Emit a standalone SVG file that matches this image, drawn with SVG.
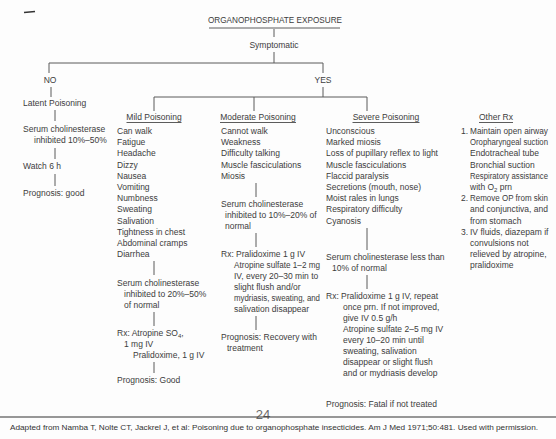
<svg xmlns="http://www.w3.org/2000/svg" width="556" height="439" viewBox="0 0 556 439">
<style>
text{font-family:"Liberation Sans",Arial,sans-serif;font-size:8.5px;fill:#3c3c3c}
.c{text-anchor:middle}
.t{font-size:8.2px}
.ln{stroke:#5a5a5a;stroke-width:1;fill:none}
.ul{stroke:#4a4a4a;stroke-width:0.9}
.cite{font-size:6.8px;fill:#333}
.pg{font-size:13px;fill:#6a6a6a}
</style>
<rect width="556" height="439" fill="#fdfdfd"/>
<path d="M24 12.5 L35 11.5" stroke="#333" stroke-width="1.6"/>

<g id="connectors" class="ln">
<path d="M274 29V37M274 52V63M49 63H323M49 63V73M323 63V73M51 87V97M323 87V97M154 97H367M154 97V111M254 97V111M367 97V111"/>
<path d="M55 110V121M55 148V159M55 174V186"/>
<path d="M154 261V275M154 312V326M154 362V373"/>
<path d="M256 183V197M256 233V247M256 316V330"/>
<path d="M367 228V250M367 275V289"/>
</g>

<g id="title">
<text class="c t" x="275" y="23">ORGANOPHOSPHATE EXPOSURE</text>
<line class="ul" x1="209" y1="28" x2="340" y2="28"/>
</g>
<g id="symptomatic"><text class="c" x="274" y="48">Symptomatic</text></g>
<g id="no"><text class="c" x="50" y="83">NO</text></g>
<g id="yes"><text class="c" x="323" y="83">YES</text></g>

<g id="latent">
<text x="23" y="106">Latent Poisoning</text>
<text x="23" y="132">Serum cholinesterase</text>
<text x="34" y="143">inhibited 10%–50%</text>
<text x="23" y="169">Watch 6 h</text>
<text x="23" y="196">Prognosis: good</text>
</g>

<g id="mild">
<text class="c" x="154" y="120">Mild Poisoning</text>
<line class="ul" x1="126.5" y1="122.5" x2="181.5" y2="122.5"/>
<text x="117" y="134">Can walk</text>
<text x="117" y="145.2">Fatigue</text>
<text x="117" y="156.4">Headache</text>
<text x="117" y="167.6">Dizzy</text>
<text x="117" y="178.8">Nausea</text>
<text x="117" y="190">Vomiting</text>
<text x="117" y="201.2">Numbness</text>
<text x="117" y="212.4">Sweating</text>
<text x="117" y="223.6">Salivation</text>
<text x="117" y="234.8">Tightness in chest</text>
<text x="117" y="246">Abdominal cramps</text>
<text x="117" y="257.2">Diarrhea</text>
<text x="117" y="286">Serum cholinesterase</text>
<text x="124" y="297">inhibited to 20%–50%</text>
<text x="124" y="308">of normal</text>
<text x="117" y="336">Rx: Atropine SO<tspan font-size="6" dy="2">4</tspan><tspan dy="-2">,</tspan></text>
<text x="124" y="347">1 mg IV</text>
<text x="133" y="358">Pralidoxime, 1 g IV</text>
<text x="117" y="383">Prognosis: Good</text>
</g>

<g id="moderate">
<text class="c" x="258" y="120">Moderate Poisoning</text>
<line class="ul" x1="220" y1="122.5" x2="296" y2="122.5"/>
<text x="221" y="134">Cannot walk</text>
<text x="221" y="145.2">Weakness</text>
<text x="221" y="156.4">Difficulty talking</text>
<text x="221" y="167.6">Muscle fasciculations</text>
<text x="221" y="178.8">Miosis</text>
<text x="221" y="207">Serum cholinesterase</text>
<text x="225" y="218">inhibited to 10%–20% of</text>
<text x="225" y="229">normal</text>
<text x="221" y="257">Rx: Pralidoxime 1 g IV</text>
<text x="234" y="268" textLength="86" lengthAdjust="spacingAndGlyphs">Atropine sulfate 1–2 mg</text>
<text x="234" y="279">IV, every 20–30 min to</text>
<text x="234" y="290">slight flush and/or</text>
<text x="234" y="301" textLength="86" lengthAdjust="spacingAndGlyphs">mydriasis, sweating, and</text>
<text x="234" y="312">salivation disappear</text>
<text x="221" y="340">Prognosis: Recovery with</text>
<text x="227" y="351">treatment</text>
</g>

<g id="severe">
<text class="c" x="386" y="120">Severe Poisoning</text>
<line class="ul" x1="352.5" y1="122.5" x2="419.5" y2="122.5"/>
<text x="326" y="134">Unconscious</text>
<text x="326" y="145.2">Marked miosis</text>
<text x="326" y="156.4">Loss of pupillary reflex to light</text>
<text x="326" y="167.6">Muscle fasciculations</text>
<text x="326" y="178.8">Flaccid paralysis</text>
<text x="326" y="190">Secretions (mouth, nose)</text>
<text x="326" y="201.2">Moist rales in lungs</text>
<text x="326" y="212.4">Respiratory difficulty</text>
<text x="326" y="223.6">Cyanosis</text>
<text x="326" y="260">Serum cholinesterase less than</text>
<text x="332" y="271">10% of normal</text>
<text x="326" y="299">Rx: Pralidoxime 1 g IV, repeat</text>
<text x="343" y="310">once prn. If not improved,</text>
<text x="343" y="321">give IV 0.5 g/h</text>
<text x="343" y="332">Atropine sulfate 2–5 mg IV</text>
<text x="343" y="343">every 10–20 min until</text>
<text x="343" y="354">sweating, salivation</text>
<text x="343" y="365">disappear or slight flush</text>
<text x="343" y="376">and or mydriasis develop</text>
<text x="326" y="407">Prognosis: Fatal if not treated</text>
</g>

<g id="other-rx">
<text class="c" x="496" y="120">Other Rx</text>
<line class="ul" x1="479" y1="122.5" x2="513" y2="122.5"/>
<text x="461" y="134">1.</text>
<text x="470" y="134" textLength="78" lengthAdjust="spacingAndGlyphs">Maintain open airway</text>
<text x="470" y="145.2" textLength="78" lengthAdjust="spacingAndGlyphs">Oropharyngeal suction</text>
<text x="470" y="156.4">Endotracheal tube</text>
<text x="470" y="167.6">Bronchial suction</text>
<text x="470" y="178.8" textLength="78" lengthAdjust="spacingAndGlyphs">Respiratory assistance</text>
<text x="470" y="190">with O<tspan font-size="6" dy="2">2</tspan><tspan dy="-2"> prn</tspan></text>
<text x="461" y="201.2">2.</text>
<text x="470" y="201.2" textLength="78" lengthAdjust="spacingAndGlyphs">Remove OP from skin</text>
<text x="470" y="212.4">and conjunctiva, and</text>
<text x="470" y="223.6">from stomach</text>
<text x="461" y="234.8">3.</text>
<text x="470" y="234.8">IV fluids, diazepam if</text>
<text x="470" y="246">convulsions not</text>
<text x="470" y="257.2">relieved by atropine,</text>
<text x="470" y="268.4">pralidoxime</text>
</g>

<g id="footer">
<text class="c pg" x="263" y="419">24</text>
<line x1="0" y1="417" x2="556" y2="417" stroke="#333" stroke-width="1.2"/>
<text class="cite" x="10" y="430" textLength="528" lengthAdjust="spacingAndGlyphs">Adapted from Namba T, Nolte CT, Jackrel J, et al: Poisoning due to organophosphate insecticides. Am J Med 1971;50:481. Used with permission.</text>
</g>
</svg>
